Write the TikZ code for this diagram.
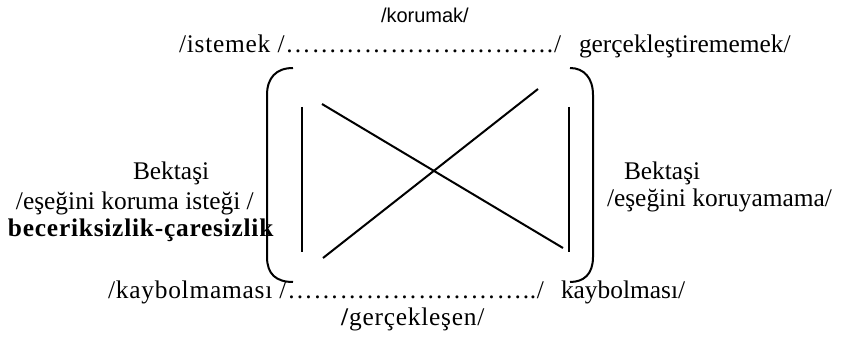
\documentclass[tikz,border=0pt]{standalone}
\usepackage{fontspec}
\setmainfont{Liberation Serif}
\newfontfamily\sansfont{Liberation Sans}
\newcommand{\dotrow}[1]{\foreach \k in {1,...,#1}{…}}
\begin{document}
\begin{tikzpicture}[x=0.5pt,y=-0.5pt,line width=1pt,
    lbl/.style={inner sep=0pt,anchor=base west,font=\fontsize{12.7}{15}\selectfont},
    wide/.style={font=\fontsize{12.7}{15}\selectfont\addfontfeature{LetterSpace=3}}]
      \useasboundingbox (0,0) rectangle (845,341);
      \coordinate(n1) at (293,68);
      \coordinate(n2) at (267,95);
      \coordinate(n3) at (267,257);
      \coordinate(n4) at (293,282);
      \coordinate(n5) at (570,68);
      \coordinate(n6) at (593,95);
      \coordinate(n7) at (593,257);
      \coordinate(n8) at (570,282);

      \coordinate(n9) at (302,107);
      \coordinate(n10) at (302,252);
      \coordinate(n11) at (569,107);
      \coordinate(n12) at (569,252);
      \coordinate(n13) at (322,104);
      \coordinate(n14) at (563,248);
      \coordinate(n15) at (323,258);
      \coordinate(n16) at (538,89);
      %
      \draw (n1) .. controls (276,68) and (267,78) .. (n2) -- (n3) .. controls (267,274) and (276,282) .. (n4);
      \draw (n5) .. controls (584,68) and (593,78) .. (n6) -- (n7) .. controls (593,274) and (584,282) .. (n8);

      \draw (n9) -- (n10);
      \draw (n11) -- (n12);
      \draw (n13) -- (n14);
      \draw (n15) -- (n16);

      \node[lbl,font=\sansfont\fontsize{10}{12}\selectfont](korumak) at (380,23){/korumak/};
      \node[lbl,wide](istemek) at (178,53){/istemek /\dotrow{10}./};
      \node[lbl](gerceklestirememek) at (578,53){gerçekleştirememek/};
      \node[lbl](bektasi1) at (132,180){Bektaşi};
      \node[lbl](istegi) at (15,210){/eşeğini koruma isteği /};
      \node[lbl,wide](beceriksizlik) at (7,237){\textbf{beceriksizlik-çaresizlik}};
      \node[lbl](bektasi2) at (623,180){Bektaşi};
      \node[lbl](koruyamama) at (606,207){/eşeğini koruyamama/};
      \node[lbl,wide](kaybolmamasi) at (107,299){/kaybolmaması /\dotrow{9}../};
      \node[lbl](kaybolmasi) at (560,299){kaybolması/};
      \node[lbl,wide](gerceklesen) at (340,326){\textbf{/}gerçekleşen/};

    \end{tikzpicture}
\end{document}
